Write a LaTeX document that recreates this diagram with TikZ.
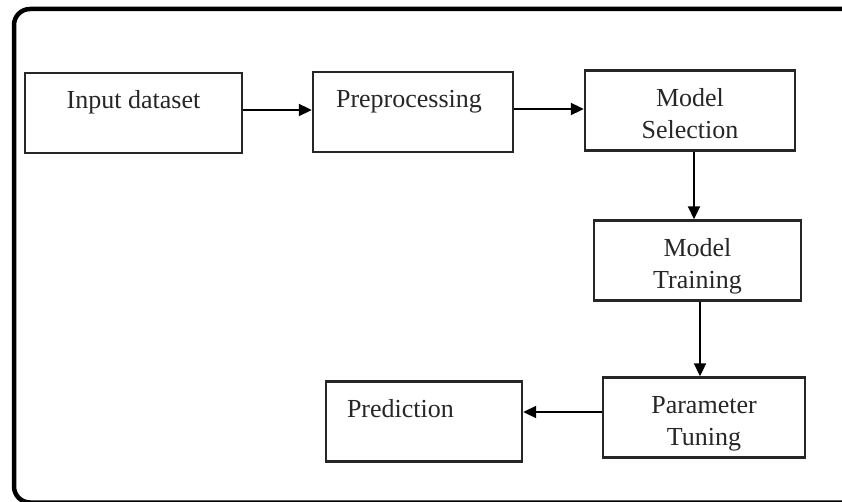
\documentclass[tikz,border=0pt]{standalone}
\usepackage{fontspec}
\setmainfont{Liberation Serif}
\usetikzlibrary{arrows.meta}
\begin{document}
\begin{tikzpicture}[x=1pt, y=-1pt,
  bloc/.style={draw=black!85, line width=2.4pt, inner ysep=0pt, text height=36pt, text depth=44pt,
    font=\fontsize{26}{32}\selectfont, text=black!85},
  bloc2/.style={bloc, align=center, text height=68pt, text depth=12pt},
  fleche/.style={line width=2pt, -{Triangle[length=13pt,width=12pt]}}]
\useasboundingbox (0,0) rectangle (842,502);
\clip (0,0) rectangle (842,502);
\draw[line width=4.5pt, rounded corners=16pt] (14,9) rectangle (870,502.5);
\node[bloc, minimum width=217pt] (input) at (133.5,113) {Input dataset};
\node[bloc, minimum width=200pt] (pre) at (413,112) {\hspace*{-8pt}Preprocessing};
\node[bloc2, minimum width=210pt] (sel) at (690,110.5) {Model\\Selection};
\node[bloc2, minimum width=207pt] (train) at (697.5,260.5) {Model\\Training};
\node[bloc2, minimum width=202pt] (tune) at (704,417.5) {Parameter\\Tuning};
\node[bloc, align=left, text width=154pt, inner xsep=21pt] (pred) at (424,421.5) {Prediction};
\draw[fleche] ([yshift=3pt]input.east) -- ([yshift=3pt]input.east -| pre.west);
\draw[fleche] ([yshift=3pt]pre.east) -- ([yshift=3pt]pre.east -| sel.west);
\draw[fleche] ([xshift=4pt]sel.south) -- ([xshift=4pt]sel.south |- train.north);
\draw[fleche] ([xshift=2.5pt]train.south) -- ([xshift=2.5pt]train.south |- tune.north);
\draw[fleche] ([yshift=5.5pt]tune.west) -- ([yshift=5.5pt]tune.west -| pred.east);
\end{tikzpicture}
\end{document}
